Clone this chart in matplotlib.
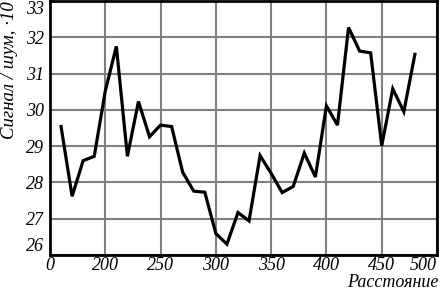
import matplotlib
matplotlib.use("Agg")
import matplotlib.pyplot as plt

# distance and signal/noise values
dist = [160, 170, 180, 190, 200, 210, 220, 230, 240, 250, 260, 270, 280, 290, 300, 310, 320,
        330, 340, 350, 360, 370, 380, 390, 400, 410, 420, 430, 440, 450, 460, 470, 480]
snr = [29.54, 27.62, 28.60, 28.72, 30.52, 31.75, 28.72, 30.23, 29.26, 29.58, 29.54, 28.28,
       27.76, 27.73, 26.59, 26.30, 27.17, 26.94, 28.74, 28.25, 27.72, 27.89, 28.81, 28.15,
       30.11, 29.58, 32.27, 31.62, 31.57, 29.01, 30.58, 29.95, 31.53]
xticks = [150, 200, 250, 300, 350, 400, 450, 500]
xlabels = ["0", "200", "250", "300", "350", "400", "450", "500"]
yticks = [26, 27, 28, 29, 30, 31, 32, 33]

plt.rcParams['font.family'] = ['Liberation Serif', 'DejaVu Serif']
plt.rcParams['font.style'] = 'italic'

fig = plt.figure(figsize=(4.4, 2.92), dpi=100)
ax = fig.add_axes([50 / 440, 37 / 292, 387 / 440, 254 / 292])

ax.plot(dist, snr, color='black', lw=2.3, solid_joinstyle='miter', zorder=3)

ax.set_xlim(150, 500)
ax.set_ylim(26, 33)
ax.set_xticks(xticks)
ax.set_xticklabels(xlabels)
ax.set_yticks(yticks)
ax.grid(True, color='#7f7f7f', lw=1.5)
ax.tick_params(length=0, labelsize=13)
ax.tick_params(axis='y', pad=4)
ax.tick_params(axis='x', pad=1.5)
ax.xaxis.get_ticklabels()[-1].set_horizontalalignment('right')
ylabs = ax.yaxis.get_ticklabels()
ylabs[0].set_verticalalignment('bottom')
ylabs[-1].set_verticalalignment('top')
for s in ax.spines.values():
    s.set_linewidth(2)
    s.set_zorder(4)

fig.text(0.022, 0.997, "Сигнал / шум, ·10", rotation=90, ha='center', va='top',
         fontsize=13.5, style='italic')
fig.text(0.997, 0.002, "Расстояние", ha='right', va='bottom', fontsize=13, style='italic')

fig.savefig("out.png", dpi=100)
